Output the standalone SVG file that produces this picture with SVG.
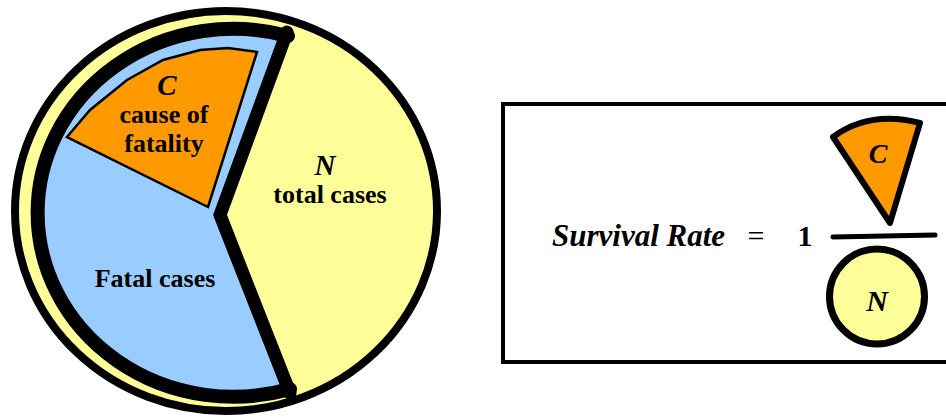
<svg xmlns="http://www.w3.org/2000/svg" width="946" height="420" viewBox="0 0 946 420">
<style>
text{font-family:'Liberation Serif','DejaVu Serif',serif;font-weight:bold;fill:#000;text-anchor:middle}
.i{font-style:italic}
.k{fill:none;stroke:#000}
</style>
<rect width="946" height="420" fill="#fff"/>
<g id="pie">
<ellipse cx="226" cy="211" rx="211" ry="200" fill="#FFFF99" stroke="#000" stroke-width="8"/>
</g>
<g id="fatal">
<path d="M290 389 A196 184 0 1 1 288 36 L220 215 Z" fill="#99CCFF"/>
<path d="M290 389 A196 184 0 1 1 288 36" class="k" stroke-width="14" stroke-linecap="round"/>
<polyline points="287,32 220,215 290,393" class="k" stroke-width="13" stroke-linecap="round" stroke-linejoin="miter"/>
<text x="155" y="287" font-size="26">Fatal cases</text>
</g>
<g id="cause">
<path d="M208 207 L67 137 L90 110 L127 80 L163 60 L200 50 L228 48 L257 52 Z" fill="#FF9900" stroke="#000" stroke-width="2.5" stroke-linejoin="miter"/>
<text class="i" x="167" y="95" font-size="29">C</text>
<text x="164" y="123" font-size="26">cause of</text>
<text x="164" y="152" font-size="26">fatality</text>
</g>
<g id="total">
<text class="i" x="325" y="175" font-size="29">N</text>
<text x="330" y="203" font-size="26">total cases</text>
</g>
<g id="formula">
<rect x="503" y="104" width="460" height="258" fill="#fff" stroke="#000" stroke-width="4"/>
<text class="i" x="552" y="246" font-size="31" style="text-anchor:start">Survival Rate</text>
<text x="756" y="246" font-size="30" style="font-weight:normal">=</text>
<text x="805" y="246" font-size="30">1</text>
</g>
<g id="wedge">
<path d="M833 137 Q869.5 110 920 123 L890 223 Z" fill="#FF9900" stroke="#000" stroke-width="6" stroke-linejoin="round"/>
<text class="i" x="878" y="163" font-size="28">C</text>
</g>
<g id="connectors">
<line x1="833" y1="237" x2="935" y2="235" stroke="#000" stroke-width="5" stroke-linecap="round"/>
</g>
<g id="circleN">
<circle cx="877" cy="296.5" r="47.5" fill="#FFFF99" stroke="#000" stroke-width="7"/>
<text class="i" x="877" y="311" font-size="30">N</text>
</g>
</svg>
